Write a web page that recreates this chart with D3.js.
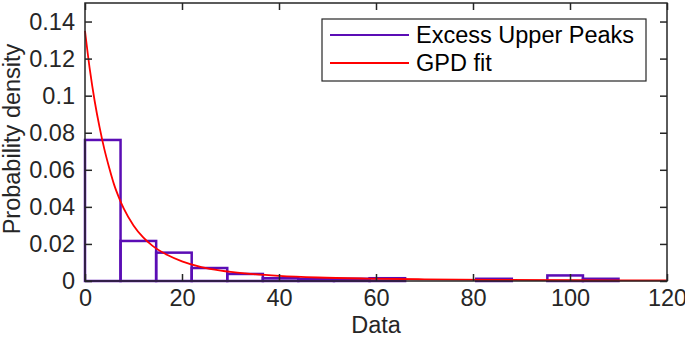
<!DOCTYPE html>
<html>
<head>
<meta charset="utf-8">
<script src="https://cdn.jsdelivr.net/npm/d3@7"></script>
<style>
  html, body { margin: 0; padding: 0; background: #fff; }
  text { font-family: "Liberation Sans", Arial, sans-serif; }
</style>
</head>
<body>
<div id="chart"></div>
<script>
// Histogram bin edges (15 bins, 0..110) and densities
const binEdges = [0, 7.33, 14.67, 22, 29.33, 36.67, 44, 51.33, 58.67, 66, 73.33, 80.67, 88, 95.33, 102.67, 110];
const binDensity = [0.0761, 0.0216, 0.0153, 0.0070, 0.0038, 0.0015, 0.0012, 0.0012, 0.0015, 0, 0, 0.0012, 0, 0.0030, 0.0012];

// GPD fit curve
const fitX = [0, 1, 2, 3, 4, 5, 6, 7, 8, 10, 12, 14, 17, 20, 24, 28, 33, 40, 48, 58, 70, 85, 100, 120];
const fitY = [0.135, 0.114, 0.097, 0.083, 0.071, 0.061, 0.052, 0.045, 0.039, 0.030, 0.0235, 0.0188, 0.0140, 0.0106, 0.0075, 0.0056, 0.0041, 0.0028, 0.0019, 0.0013, 0.0009, 0.0006, 0.0004, 0.0003];

const xTicks = [0, 20, 40, 60, 80, 100, 120];
const yTicks = [0, 0.02, 0.04, 0.06, 0.08, 0.1, 0.12, 0.14];
const legendLabels = ['Excess Upper Peaks', 'GPD fit'];

const colors = { hist: '#5b0db5', fit: '#ff0000', axis: '#262626' };

function renderChart() {
    const W = 685, H = 343;
    const margin = { top: 3, right: 18, bottom: 62, left: 85 };
    const width = W - margin.left - margin.right;
    const height = H - margin.top - margin.bottom;
    const fontSize = '23.5px';

    const svg = d3.select('#chart').append('svg')
        .attr('width', W)
        .attr('height', H);

    const g = svg.append('g')
        .attr('transform', `translate(${margin.left}, ${margin.top})`);

    const xScale = d3.scaleLinear().domain([0, 120]).range([0, width]);
    const yScale = d3.scaleLinear().domain([0, 0.15]).range([height, 0]);

    // Histogram bars (outlined)
    const bins = binDensity.map((d, i) => ({ x0: binEdges[i], x1: binEdges[i + 1], v: d }));
    g.selectAll('.bar')
        .data(bins)
        .enter()
        .append('rect')
        .attr('class', 'bar')
        .attr('x', d => xScale(d.x0))
        .attr('y', d => yScale(d.v))
        .attr('width', d => xScale(d.x1) - xScale(d.x0))
        .attr('height', d => yScale(0) - yScale(d.v))
        .attr('fill', 'none')
        .attr('stroke', colors.hist)
        .attr('stroke-width', 2.5);

    // Fit curve
    const fitData = fitX.map((x, i) => ({ x: x, y: fitY[i] }));
    g.append('path')
        .datum(fitData)
        .attr('fill', 'none')
        .attr('stroke', colors.fit)
        .attr('stroke-width', 1.8)
        .attr('d', d3.line()
            .curve(d3.curveMonotoneX)
            .x(d => xScale(d.x))
            .y(d => yScale(d.y)));

    // Axes, MATLAB style box with inward ticks
    const tickLen = 7;
    const fmtY = d => d === 0 ? '0' : String(+d.toFixed(2));

    const xAxis = g.append('g')
        .attr('transform', `translate(0, ${height})`)
        .call(d3.axisBottom(xScale).tickValues(xTicks).tickSizeInner(-tickLen).tickSizeOuter(0).tickPadding(8));
    const xTop = g.append('g')
        .call(d3.axisTop(xScale).tickValues(xTicks).tickSizeInner(-tickLen).tickSizeOuter(0).tickFormat(''));
    const yAxis = g.append('g')
        .call(d3.axisLeft(yScale).tickValues(yTicks).tickSizeInner(-tickLen).tickSizeOuter(0).tickPadding(10).tickFormat(fmtY));
    const yRight = g.append('g')
        .attr('transform', `translate(${width}, 0)`)
        .call(d3.axisRight(yScale).tickValues(yTicks).tickSizeInner(-tickLen).tickSizeOuter(0).tickFormat(''));

    [xAxis, xTop, yAxis, yRight].forEach(a => {
        a.selectAll('.domain').remove();
        a.selectAll('.tick line').attr('stroke', colors.axis).attr('stroke-width', 1.5);
        a.selectAll('text')
            .attr('fill', colors.axis)
            .style('font-size', fontSize)
            .style('font-family', '"Liberation Sans", Arial, sans-serif');
    });

    // Box
    g.append('rect')
        .attr('x', 0).attr('y', 0)
        .attr('width', width).attr('height', height)
        .attr('fill', 'none')
        .attr('stroke', colors.axis)
        .attr('stroke-width', 1.5);

    // Axis labels
    g.append('text')
        .attr('x', width / 2)
        .attr('y', height + 52)
        .attr('text-anchor', 'middle')
        .attr('fill', colors.axis)
        .style('font-size', fontSize)
        .text('Data');

    g.append('text')
        .attr('transform', 'rotate(-90)')
        .attr('x', -height / 2 + 3)
        .attr('y', -65)
        .attr('text-anchor', 'middle')
        .attr('fill', colors.axis)
        .style('font-size', fontSize)
        .text('Probability density');

    // Legend
    const legend = svg.append('g')
        .attr('transform', 'translate(322, 19)');
    legend.append('rect')
        .attr('width', 324)
        .attr('height', 62)
        .attr('fill', '#fff')
        .attr('stroke', colors.axis)
        .attr('stroke-width', 1.2);
    const legendColors = [colors.hist, colors.fit];
    legendLabels.forEach((label, i) => {
        const yy = 16 + i * 28;
        legend.append('line')
            .attr('x1', 8).attr('x2', 87)
            .attr('y1', yy).attr('y2', yy)
            .attr('stroke', legendColors[i])
            .attr('stroke-width', 2);
        legend.append('text')
            .attr('x', 94)
            .attr('y', yy)
            .attr('dy', '0.35em')
            .attr('fill', '#000')
            .style('font-size', fontSize)
            .text(label);
    });
}

renderChart();
</script>
</body>
</html>
